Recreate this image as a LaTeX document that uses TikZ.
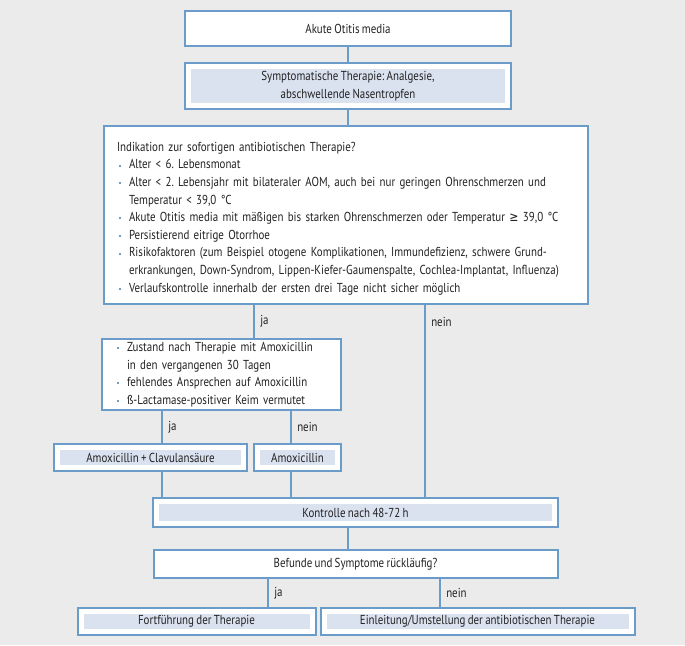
\documentclass[tikz,border=0pt]{standalone}
\usepackage{fontspec}
\setmainfont{PT Sans}[FakeStretch=0.84, WordSpace=0.8]
\newfontfamily\symfont{DejaVu Sans}[FakeStretch=0.84]
\usepackage{tikz}
\usepackage{xcolor}
\frenchspacing
\definecolor{bgcol}{HTML}{EBEBEB}
\definecolor{bordercol}{HTML}{6A9BC9}
\definecolor{shadecol}{HTML}{DAE2F0}
\definecolor{textcol}{HTML}{222222}
\tikzstyle{plain} = [rectangle, draw=bordercol, line width=2pt, fill=white, align=center, inner sep=0pt]
\tikzstyle{shaded} = [rectangle, fill=shadecol, draw=white, line width=5pt, preaction={draw=bordercol, line width=9pt}, align=center, inner sep=0pt, outer sep=4.5pt]
\newcommand{\bul}{\makebox[12pt][l]{\hspace{2pt}\textcolor{bordercol}{\rule[0.35ex]{2pt}{2pt}}}}
\newcommand{\ind}{\hspace*{12pt}}

\begin{document}
\begin{tikzpicture}[every edge/.append style={draw=bordercol, line width=2.5pt}, font=\fontsize{13}{17.6}\selectfont, text=textcol]
  \fill[bgcol] (0,0) rectangle (685pt,-645pt);
  \useasboundingbox (0,0) rectangle (685pt,-645pt);

  \node[plain, minimum width=326pt, minimum height=35pt] (otitis) at (348pt,-28.5pt) {Akute Otitis media};
  \node[shaded, minimum width=319pt, minimum height=39pt] (symptom) [below of=otitis, node distance=57.5pt] {Symptomatische Therapie: Analgesie,\\abschwellende Nasentropfen};
  \node[plain, minimum width=484pt, minimum height=178pt, text width=458pt, inner xsep=13pt, align=left] (indik) [below of=symptom, node distance=129pt, xshift=-2pt]
    {\rule{0pt}{16pt}Indikation zur sofortigen antibiotischen Therapie?\\
     \bul Alter < 6. Lebensmonat\\
     \bul Alter < 2. Lebensjahr mit bilateraler AOM, auch bei nur geringen Ohrenschmerzen und\\
     \ind Temperatur < 39,0 °C\\
     \bul Akute Otitis media mit mäßigen bis starken Ohrenschmerzen oder Temperatur {\symfont ≥} 39,0 °C\\
     \bul Persistierend eitrige Otorrhoe\\
     \bul Risikofaktoren (zum Beispiel otogene Komplikationen, Immundefizienz, schwere Grund-\\
     \ind erkrankungen, Down-Syndrom, Lippen-Kiefer-Gaumenspalte, Cochlea-Implantat, Influenza)\\
     \bul Verlaufskontrolle innerhalb der ersten drei Tage nicht sicher möglich};
  \node[plain, minimum width=239pt, minimum height=71pt, text width=213pt, inner xsep=13pt, align=left] (cond) [below of=indik, node distance=159.5pt, xshift=-124.5pt]
    {\bul Zustand nach Therapie mit Amoxicillin\\
     \ind in den vergangenen 30 Tagen\\
     \bul fehlendes Ansprechen auf Amoxicillin\\
     \bul ß-Lactamase-positiver Keim vermutet};
  \node[shaded, minimum width=186pt, minimum height=20pt] (amoxclav) [below of=cond, node distance=83pt, xshift=-71pt] {Amoxicillin + Clavulansäure};
  \node[shaded, minimum width=80pt, minimum height=20pt] (amox) [right of=amoxclav, node distance=147pt] {Amoxicillin};
  \node[shaded, minimum width=398pt, minimum height=22pt] (kontrolle) [below of=amoxclav, node distance=55pt, xshift=205pt] {Kontrolle nach 48-72 h};
  \node[plain, minimum width=404pt, minimum height=28pt] (befund) [below of=kontrolle, node distance=51.5pt] {Befunde und Symptome rückläufig?};
  \node[shaded, minimum width=231pt, minimum height=20pt] (fort) [below of=befund, node distance=57.5pt, xshift=-159pt] {Fortführung der Therapie};
  \node[shaded, minimum width=307pt, minimum height=20pt] (einl) [right of=fort, node distance=281pt] {Einleitung/Umstellung der antibiotischen Therapie};

  % columns of the connectors
  \coordinate (cmain) at (348pt,0);
  \coordinate (cja) at (254pt,0);
  \coordinate (cnein) at (425pt,0);
  \coordinate (cjb) at (162pt,0);
  \coordinate (cneinb) at (291pt,0);
  \coordinate (cjc) at (268pt,0);
  \coordinate (cneinc) at (440pt,0);

  \path (otitis) edge (symptom);
  \path (symptom.south -| cmain) edge (indik.north -| cmain);
  \path (indik.south -| cja) edge node[right, inner xsep=5pt] {ja} (cond.north -| cja);
  \path (indik.south -| cnein) edge node[right, pos=0.09, inner xsep=5pt] {nein} (kontrolle.north -| cnein);
  \path (cond.south -| cjb) edge node[right, inner xsep=5pt] {ja} (amoxclav.north -| cjb);
  \path (cond.south -| cneinb) edge node[right, inner xsep=5pt] {nein} (amox.north -| cneinb);
  \path (amoxclav.south -| cjb) edge (kontrolle.north -| cjb);
  \path (amox.south -| cneinb) edge (kontrolle.north -| cneinb);
  \path (kontrolle.south -| cmain) edge (befund.north -| cmain);
  \path (befund.south -| cjc) edge node[right, inner xsep=5pt] {ja} (fort.north -| cjc);
  \path (befund.south -| cneinc) edge node[right, inner xsep=5pt] {nein} (einl.north -| cneinc);
\end{tikzpicture}
\end{document}
